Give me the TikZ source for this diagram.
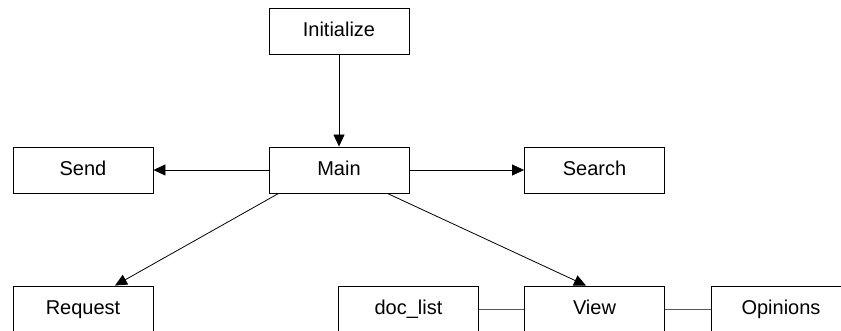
\documentclass[tikz,border=0pt]{standalone}
\usepackage{fontspec}
\setmainfont{Liberation Sans}
\usetikzlibrary{arrows.meta}

\tikzset{
  module/.style={draw, line width=0.9pt, minimum width=140pt, minimum height=46pt, inner sep=0pt,
    text height=14.5pt, text depth=4pt, font=\fontsize{20}{23}\selectfont},
  call/.style={-{Triangle[length=12pt,width=11pt]}, line width=0.8pt},
  link/.style={line width=0.8pt, gray!70!black}
}

\begin{document}
\begin{tikzpicture}[x=1pt, y=-1pt]
        \useasboundingbox (0,0) rectangle (841,331);
        \clip (0,0) rectangle (841,331);

        \node[module] (init) at (339,31) {Initialize};
        \node[module] (main) at (339,170) {Main};
        \node[module] (send) at (83,170) {Send};
        \node[module] (search) at (594.5,170) {Search};
        \node[module] (request) at (83,309) {Request};
        \node[module] (doclist) at (408.5,309) {doc\_list};
        \node[module] (view) at (594.5,309) {View};
        \node[module] (opinions) at (781,309) {Opinions};

        \draw[call] (init) -- (main);
        \draw[call] (main) -- (send);
        \draw[call] (main) -- (search);
        \draw[call] ([xshift=10pt]main.south west) -- ([xshift=32pt]request.north);
        \draw[call] ([xshift=-22pt]main.south east) -- ([xshift=-8.5pt]view.north);

        \draw[link] (doclist) -- (view);
        \draw[link] (view) -- (opinions);
    \end{tikzpicture}
\end{document}
